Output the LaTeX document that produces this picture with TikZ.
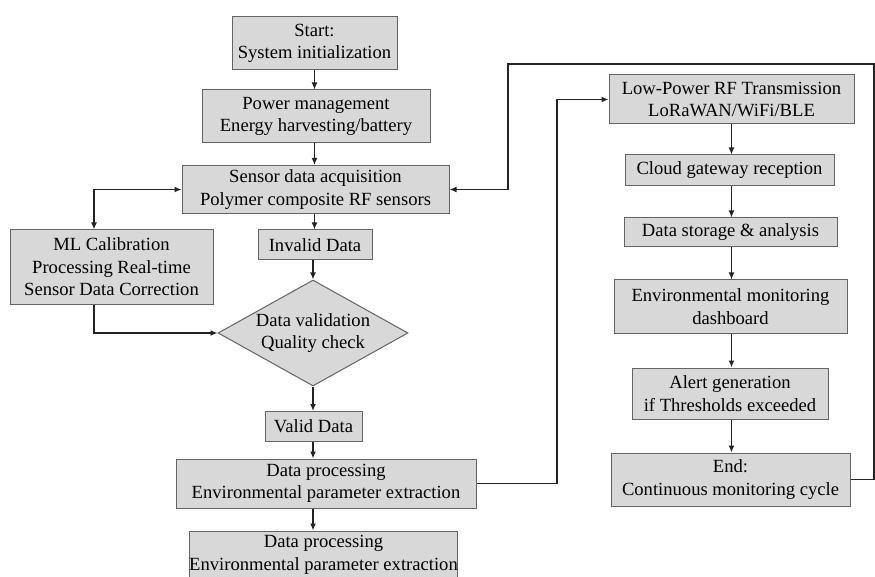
\documentclass[tikz,border=0pt]{standalone}
\usepackage{fontspec}
\setmainfont{Liberation Serif}
\usetikzlibrary{arrows.meta,shapes.geometric}
\definecolor{boxfill}{RGB}{216,216,216}
\definecolor{boxline}{RGB}{100,100,100}
\definecolor{lnk}{RGB}{35,35,35}
\tikzset{
  box/.style={rectangle, draw=boxline, fill=boxfill, line width=1pt, inner sep=0pt, align=center,
    font=\fontsize{18.6}{22.5}\selectfont},
  dia/.style={diamond, draw=boxline, fill=boxfill, line width=1pt, inner sep=0pt},
  txt/.style={align=center, inner sep=0pt, font=\fontsize{18.6}{22.5}\selectfont},
  arr/.style={draw=lnk, line width=1.9pt, -{Latex[length=7pt,width=6pt]}},
  barr/.style={draw=lnk, line width=1.9pt, {Latex[length=7pt,width=6pt]}-{Latex[length=7pt,width=6pt]}}
}
\begin{document}
\begin{tikzpicture}[x=1pt,y=-1pt]
\clip (0,0) rectangle (875,577);
\fill[white] (0,0) rectangle (875,577);
% left column
\node[box, minimum width=165pt, minimum height=53pt] (start) at (314.5,43.5) {Start:\\System initialization};
\node[box, minimum width=228pt, minimum height=53pt] (power) at (316,116.5) {Power management\\Energy harvesting/battery};
\node[box, minimum width=267pt, minimum height=48pt] (sensor) at (315.5,189.5) {Sensor data acquisition\\Polymer composite RF sensors};
\node[box, minimum width=114pt, minimum height=30pt] (invalid) at (315,245) {Invalid Data};
\node[box, minimum width=203pt, minimum height=74pt] (ml) at (111.5,267) {ML Calibration\\Processing Real-time\\Sensor Data Correction};
\node[dia, minimum width=190pt, minimum height=106pt] (check) at (313,333) {};
\node[txt] (checktext) at (313,333) {Data validation\\Quality check};
\node[box, minimum width=97pt, minimum height=30pt] (valid) at (313.5,426.5) {Valid Data};
\node[box, minimum width=300pt, minimum height=49pt] (dp1) at (326,483.5) {Data processing\\Environmental parameter extraction};
\node[box, minimum width=265pt, minimum height=48pt] (dp2) at (323.5,555) {Data processing\\Environmental parameter extraction};
% right column
\node[box, minimum width=245pt, minimum height=49pt] (lp) at (731.5,99.5) {Low-Power RF Transmission\\LoRaWAN/WiFi/BLE};
\node[box, minimum width=209pt, minimum height=31pt] (cloud) at (729.5,170.5) {Cloud gateway reception};
\node[box, minimum width=213pt, minimum height=29pt] (storage) at (730.5,232.5) {Data storage \& analysis};
\node[box, minimum width=233pt, minimum height=53pt] (env) at (730.5,306.5) {Environmental monitoring\\dashboard};
\node[box, minimum width=196pt, minimum height=51pt] (alert) at (730,393.5) {Alert generation\\if Thresholds exceeded};
\node[box, minimum width=239pt, minimum height=53pt] (end) at (730.5,479.5) {End:\\Continuous monitoring cycle};
% helper coordinates
\coordinate (mlx) at (94,0);
\coordinate (j2) at (557,0);
\coordinate (c1) at (874,64);
\coordinate (c2) at (508,64);
% main chain
\draw[arr] (start.south) -- (start.south |- power.north);
\draw[arr] (start.south |- power.south) -- (start.south |- sensor.north);
\draw[arr] (start.south |- sensor.south) -- (start.south |- invalid.north);
\draw[arr] (check.north |- invalid.south) -- (check.north);
\draw[arr] (check.south) -- (check.south |- valid.north);
\draw[arr] (check.south |- valid.south) -- (check.south |- dp1.north);
\draw[arr] (check.south |- dp1.south) -- (check.south |- dp2.north);
% ML loop
\draw[barr] (sensor.west) -| (mlx |- ml.north);
\draw[arr] (mlx |- ml.south) |- (check.west);
% to transmission
\draw[arr] (dp1.east) -- (dp1.east -| j2) -- (j2 |- lp.west) -- (lp.west);
% right chain
\draw[arr] (lp.south) -- (lp.south |- cloud.north);
\draw[arr] (lp.south |- cloud.south) -- (lp.south |- storage.north);
\draw[arr] (lp.south |- storage.south) -- (lp.south |- env.north);
\draw[arr] (lp.south |- env.south) -- (lp.south |- alert.north);
\draw[arr] (lp.south |- alert.south) -- (lp.south |- end.north);
% feedback loop
\draw[arr] (end.east) -| (c1) -- (c2) |- (sensor.east);
\end{tikzpicture}
\end{document}
